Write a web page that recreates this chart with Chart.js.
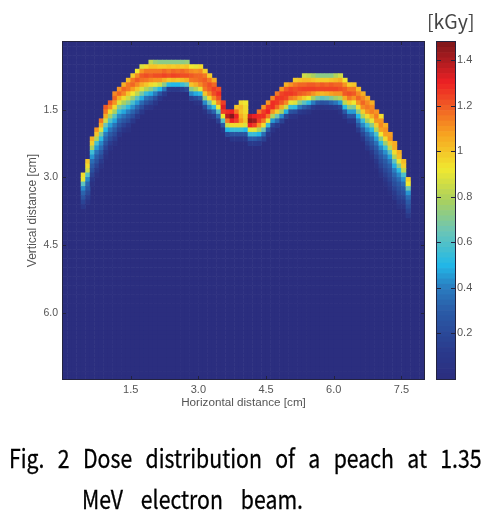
<!DOCTYPE html>
<html><head><meta charset="utf-8">
<script src="https://cdn.jsdelivr.net/npm/chart.js@4"></script>
<style>
html,body{margin:0;padding:0;background:#fff;width:500px;height:515px;overflow:hidden}
canvas{position:absolute;filter:blur(.7px)}
.t{position:absolute;font-family:"Noto Sans CJK KR","Noto Sans",sans-serif;color:#000;white-space:nowrap;filter:blur(.35px)}
.j{text-align:justify;text-align-last:justify;font-size:25px;line-height:32px;height:32px;white-space:normal;transform:scaleX(.85);transform-origin:0 0;-webkit-text-stroke:.3px #000}
</style></head><body>
<canvas id="map" width="500" height="515" style="left:0;top:0"></canvas>
<canvas id="bar" width="70" height="515" style="left:430px;top:0"></canvas>
<div class="t" style="left:427px;top:6px;font-size:19.5px;line-height:30px;color:#444">[kGy]</div>
<div class="t j" style="left:9px;top:441px;width:556px">Fig. 2 Dose distribution of a peach at 1.35</div>
<div class="t j" style="left:82px;top:482px;width:260px">MeV electron beam.</div>
<script>
const xTicks=[1.5,3.0,4.5,6.0,7.5];
const yTicks=[1.5,3.0,4.5,6.0];
const barTicks=[0.2,0.4,0.6,0.8,1,1.2,1.4];
const xLabel="Horizontal distance [cm]";
const yLabel="Vertical distance [cm]";
const columnX=[.45,.55,.65,.75,.85,.95,1.05,1.15,1.25,1.35,1.45,1.55,1.65,1.75,1.85,1.95,2.05,2.15,2.25,2.35,2.45,2.55,2.65,2.75,2.85,2.95,3.05,3.15,3.25,3.35,3.45,3.55,3.65,3.75,3.85,3.95,4.05,4.15,4.25,4.35,4.45,4.55,4.65,4.75,4.85,4.95,5.05,5.15,5.25,5.35,5.45,5.55,5.65,5.75,5.85,5.95,6.05,6.15,6.25,6.35,6.45,6.55,6.65,6.75,6.85,6.95,7.05,7.15,7.25,7.35,7.45,7.55,7.65];
const surfaceDepth=[2.9,2.6,2.1,1.9,1.7,1.4,1.3,1.1,1.0,.9,.8,.7,.6,.5,.5,.4,.4,.4,.4,.4,.4,.4,.4,.4,.5,.5,.5,.6,.7,.8,1.0,1.3,1.5,1.5,1.4,1.3,1.3,1.6,1.6,1.5,1.4,1.3,1.2,1.1,1.0,.9,.9,.8,.8,.7,.7,.7,.7,.7,.7,.7,.7,.7,.8,.9,.9,1.0,1.1,1.2,1.3,1.5,1.6,1.8,2.0,2.2,2.4,2.6,3.0];
const doseColumns=[
[.95,.9,.62,.42,.32,.25,.17,.09],
[1.0,.95,.85,.6,.42,.33,.27,.2,.13,.06],
[1.05,.98,.78,.56,.44,.35,.29,.23,.16,.09,.04],
[1.1,1.0,.8,.58,.45,.37,.3,.24,.17,.1,.04],
[1.15,1.05,.88,.68,.52,.42,.35,.28,.2,.12,.05],
[1.2,1.15,1.05,.85,.65,.5,.4,.33,.25,.17,.09,.04],
[1.2,1.12,.95,.77,.6,.46,.37,.29,.21,.13,.05],
[1.12,1.18,1.1,.95,.78,.6,.47,.37,.29,.21,.13,.05],
[1.1,1.18,1.05,.88,.7,.55,.42,.33,.25,.16,.07],
[1.05,1.18,1.12,.95,.78,.62,.47,.36,.27,.17,.07],
[1.02,1.15,1.15,1.0,.85,.7,.52,.4,.3,.21,.1,.04],
[.98,1.15,1.18,1.08,.92,.75,.58,.43,.32,.22,.1],
[.92,1.12,1.2,1.12,1.0,.82,.62,.45,.33,.22,.1],
[.88,1.1,1.2,1.16,1.05,.88,.68,.48,.34,.22,.1],
[.95,1.15,1.22,1.15,1.0,.8,.55,.37,.24,.1],
[.82,1.0,1.15,1.2,1.12,.95,.72,.48,.32,.18,.06],
[.75,1.0,1.15,1.22,1.1,.9,.62,.4,.22,.08],
[.72,.98,1.15,1.22,1.1,.85,.5,.25,.08],
[.72,.98,1.18,1.24,1.05,.72,.38,.12],
[.72,1.0,1.15,1.22,1.0,.52,.12],
[.72,.98,1.18,1.24,1.02,.5,.1],
[.72,1.0,1.16,1.23,1.0,.5,.1],
[.72,.98,1.18,1.22,1.02,.55,.14],
[.74,1.0,1.15,1.22,1.05,.62,.2],
[.92,1.12,1.2,1.15,1.0,.72,.42,.14],
[.9,1.1,1.18,1.16,1.05,.8,.48,.2,.05],
[.95,1.12,1.18,1.18,1.12,.9,.52,.28,.06],
[.98,1.15,1.2,1.18,1.15,1.0,.72,.42,.2,.05],
[.98,1.15,1.22,1.2,1.12,.95,.65,.42,.2,.05],
[1.05,1.18,1.25,1.22,1.12,.9,.55,.32,.12],
[1.22,1.28,1.22,1.12,.92,.6,.35,.15],
[1.25,1.32,1.25,.92,.6,.28,.08],
[1.28,1.38,1.15,.85,.5,.2],
[1.3,1.46,1.3,.95,.55,.25,.08],
[1.0,1.15,1.3,1.25,.95,.55,.25,.08],
[.95,1.02,1.0,1.05,1.1,.95,.55,.25,.08],
[.92,.95,.95,.98,1.0,.88,.5,.25,.1],
[1.35,1.45,1.3,.9,.55,.3,.12],
[1.3,1.42,1.25,.9,.55,.3,.12],
[1.15,1.28,1.25,1.1,.8,.5,.25,.1],
[1.1,1.25,1.28,1.15,.95,.65,.35,.15],
[1.1,1.26,1.3,1.15,.9,.55,.28,.1],
[1.12,1.28,1.28,1.1,.8,.45,.2,.06],
[1.15,1.26,1.26,1.18,.98,.65,.35,.12],
[1.1,1.24,1.26,1.2,1.05,.78,.42,.16],
[1.05,1.2,1.26,1.24,1.12,.85,.48,.18],
[1.1,1.24,1.26,1.15,.9,.55,.25,.06],
[.98,1.15,1.22,1.24,1.12,.88,.52,.22,.05],
[1.0,1.18,1.24,1.2,1.05,.72,.38,.12],
[.85,1.02,1.18,1.25,1.18,.98,.62,.3,.08],
[.82,1.02,1.2,1.25,1.15,.92,.52,.22,.05],
[.78,1.0,1.2,1.25,1.1,.78,.4,.12],
[.72,.98,1.18,1.24,1.05,.68,.28,.06],
[.72,.98,1.2,1.24,1.03,.62,.24,.05],
[.72,.98,1.18,1.24,1.05,.65,.26,.06],
[.72,1.0,1.2,1.24,1.08,.7,.32,.08],
[.8,1.02,1.18,1.24,1.1,.76,.38,.12],
[.85,1.05,1.18,1.22,1.1,.8,.45,.18,.05],
[.92,1.1,1.2,1.2,1.05,.82,.52,.28,.1],
[.98,1.15,1.22,1.15,.98,.72,.45,.25,.08],
[1.0,1.15,1.2,1.1,.92,.7,.45,.25,.08],
[1.02,1.12,1.18,1.1,.95,.72,.5,.38,.25,.12],
[1.05,1.12,1.18,1.12,.98,.8,.55,.42,.3,.18,.07],
[1.05,1.12,1.15,1.1,.95,.78,.56,.43,.32,.24,.16,.08],
[1.05,1.12,1.14,1.05,.9,.72,.52,.42,.32,.25,.18,.1,.04],
[1.1,1.14,1.1,.98,.8,.58,.45,.36,.28,.22,.16,.09,.04],
[.95,1.1,1.12,1.08,.92,.72,.52,.42,.33,.27,.21,.16,.1,.05],
[1.05,1.1,1.08,.95,.76,.55,.43,.35,.29,.24,.19,.14,.08,.04],
[1.08,1.1,1.0,.82,.62,.46,.38,.31,.26,.21,.17,.12,.07,.03],
[1.05,1.05,.95,.8,.62,.48,.4,.33,.27,.22,.17,.12,.07],
[1.05,1.02,.9,.72,.52,.42,.35,.29,.24,.2,.15,.1,.05],
[1.02,.98,.82,.58,.44,.36,.3,.24,.18,.12,.06],
[.98,.92,.65,.44,.35,.29,.23,.17,.1]
];
const stopValues=[0,.12,.3,.4,.5,.65,.78,.92,1.08,1.2,1.3,1.4,1.48];
const stopColors=[[43,46,127],[42,58,140],[42,92,168],[42,125,192],[34,184,232],[108,197,181],[168,208,96],[240,232,48],[247,160,32],[240,90,37],[237,32,36],[170,28,32],[125,22,26]];

function colorOf(v){
  let i=0;
  while(i<stopValues.length-2&&v>stopValues[i+1])i++;
  const t=Math.max(0,Math.min(1,(v-stopValues[i])/(stopValues[i+1]-stopValues[i])));
  const a=stopColors[i],b=stopColors[i+1];
  return `rgb(${a.map((c,k)=>Math.round(c+(b[k]-c)*t)).join(',')})`;
}
const GRID_COLS=80,GRID_ROWS=75;
const cells=[];
const filled=new Set();
const doseCells=[];
columnX.forEach((x,i)=>{
  const r0=Math.round(surfaceDepth[i]*10);
  doseColumns[i].forEach((v,k)=>{
    doseCells.push({x,y:(r0+k)/10+.05,v});
    filled.add(Math.round(x*100)+'_'+(r0+k));
  });
});
for(let c=0;c<GRID_COLS;c++)for(let r=0;r<GRID_ROWS;r++){
  const x=(c+.5)/10;
  if(!filled.has(Math.round(x*100)+'_'+r))cells.push({x,y:(r+.5)/10,v:0});
}
cells.push(...doseCells);

const inkColor='#23233f',textColor='#555';
const frame={id:'frame',afterDatasetsDraw(ch,args,o){
  const {ctx,chartArea:a,scales}=ch;
  ctx.save();
  ctx.strokeStyle=inkColor;ctx.lineWidth=1;
  ctx.strokeRect(a.left-.5,a.top-.5,a.right-a.left+1,a.bottom-a.top+1);
  ctx.beginPath();
  if(o.xVals)o.xVals.forEach(v=>{const p=Math.round(scales.x.getPixelForValue(v))+.5;
    ctx.moveTo(p,a.bottom);ctx.lineTo(p,a.bottom-o.len);ctx.moveTo(p,a.top);ctx.lineTo(p,a.top+o.len);});
  o.yVals.forEach(v=>{const p=Math.round(scales.y.getPixelForValue(v))+.5;
    ctx.moveTo(a.left,p);ctx.lineTo(a.left+o.len,p);ctx.moveTo(a.right,p);ctx.lineTo(a.right-o.len,p);});
  ctx.stroke();ctx.restore();
}};
const tickFont={family:'"Liberation Sans",Arial,sans-serif',size:11};
const noGrid={display:false,drawTicks:false};

new Chart(document.getElementById('map'),{
  type:'scatter',
  data:{datasets:[{data:cells,pointStyle:'rect',pointRadius:3.6,pointBorderWidth:0,
    pointBackgroundColor:cells.map(c=>colorOf(c.v))}]},
  options:{responsive:false,animation:false,events:[],devicePixelRatio:1,
    layout:{padding:{left:0,top:42,right:76,bottom:105}},
    plugins:{legend:{display:false},tooltip:{enabled:false},frame:{xVals:xTicks,yVals:yTicks,len:3}},
    scales:{
      x:{type:'linear',min:0,max:8,border:{display:false},grid:noGrid,
        afterFit:s=>{s.height=31},
        afterBuildTicks:s=>{s.ticks=xTicks.map(v=>({value:v}))},
        ticks:{padding:4,maxRotation:0,color:textColor,font:tickFont,callback:v=>v.toFixed(1)},
        title:{display:true,text:xLabel,color:textColor,padding:{top:0,bottom:0},font:{family:tickFont.family,size:11.7}}},
      y:{type:'linear',reverse:true,min:0,max:7.47,border:{display:false},grid:noGrid,
        afterFit:s=>{s.width=63},
        afterBuildTicks:s=>{s.ticks=yTicks.map(v=>({value:v}))},
        ticks:{padding:5,color:textColor,font:{family:tickFont.family,size:10.5},callback:v=>v.toFixed(1)},
        title:{display:true,text:yLabel,color:textColor,padding:{top:25,bottom:0},font:{family:tickFont.family,size:12}}}
    }},
  plugins:[frame]
});

const LEVELS=64,BAR_MAX=1.48;
const barSets=[];
for(let i=0;i<LEVELS;i++){
  barSets.push({data:[BAR_MAX/LEVELS],backgroundColor:colorOf((i+.5)*BAR_MAX/LEVELS),borderWidth:0,barPercentage:1,categoryPercentage:1,stack:'s'});
}
new Chart(document.getElementById('bar'),{
  type:'bar',
  data:{labels:['dose'],datasets:barSets},
  options:{responsive:false,animation:false,events:[],devicePixelRatio:1,
    layout:{padding:{left:7,top:42,right:0,bottom:136}},
    plugins:{legend:{display:false},tooltip:{enabled:false},frame:{yVals:barTicks,len:4}},
    scales:{
      x:{display:false,stacked:true},
      y:{position:'right',stacked:true,min:0,max:BAR_MAX,border:{display:false},grid:noGrid,
        afterFit:s=>{s.width=45},
        afterBuildTicks:s=>{s.ticks=barTicks.map(v=>({value:v}))},
        ticks:{padding:2,color:textColor,font:tickFont,callback:v=>String(v)}}
    }},
  plugins:[frame]
});
</script>
</body></html>
